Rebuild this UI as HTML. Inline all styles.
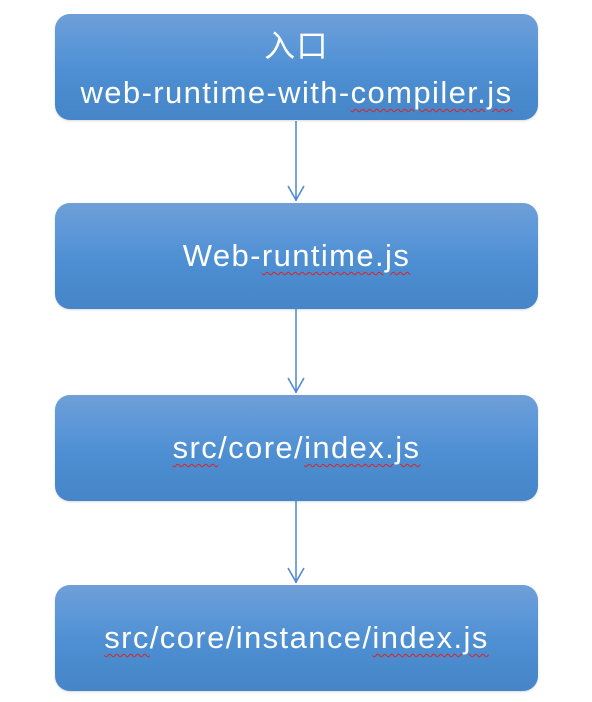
<!DOCTYPE html>
<html><head><meta charset="utf-8"><style>
body{margin:0;width:592px;height:702px;background:#fff;position:relative;overflow:hidden;font-family:"Liberation Sans","Noto Sans CJK SC",sans-serif}
.b{position:absolute;left:55px;width:483px;height:106px;border-radius:15px;background:linear-gradient(#6f9fd8 0%,#5c97d8 30%,#4d8fd2 55%,#4585c8 100%);color:#fff;font-size:31px;letter-spacing:1.4px;display:flex;flex-direction:column;align-items:center;justify-content:center;line-height:46px;box-shadow:0 1px 2px rgba(0,0,0,.15);white-space:nowrap}
u{text-decoration:underline wavy #d22;text-decoration-thickness:1px;text-underline-offset:5px}
</style></head><body>
<div class="b" style="top:14px;padding-top:6px;box-sizing:border-box"><div>入口</div><div>web-runtime-with-<u>compiler.js</u></div></div>
<div class="b" style="top:203px"><span>Web-<u>runtime.js</u></span></div>
<div class="b" style="top:395px"><span><u>src</u>/core/<u>index.js</u></span></div>
<div class="b" style="top:585px"><span><u>src</u>/core/instance/<u>index.js</u></span></div>
<svg width="592" height="702" style="position:absolute;left:0;top:0">
<g stroke="#4a86d0" stroke-width="1.5" fill="none">
<line x1="296" y1="121" x2="296" y2="201"/><polyline points="288,186 296,200 304,186"/>
<line x1="296" y1="309" x2="296" y2="393"/><polyline points="288,378 296,392 304,378"/>
<line x1="296" y1="501" x2="296" y2="583"/><polyline points="288,568 296,582 304,568"/>
</g></svg>
</body></html>
